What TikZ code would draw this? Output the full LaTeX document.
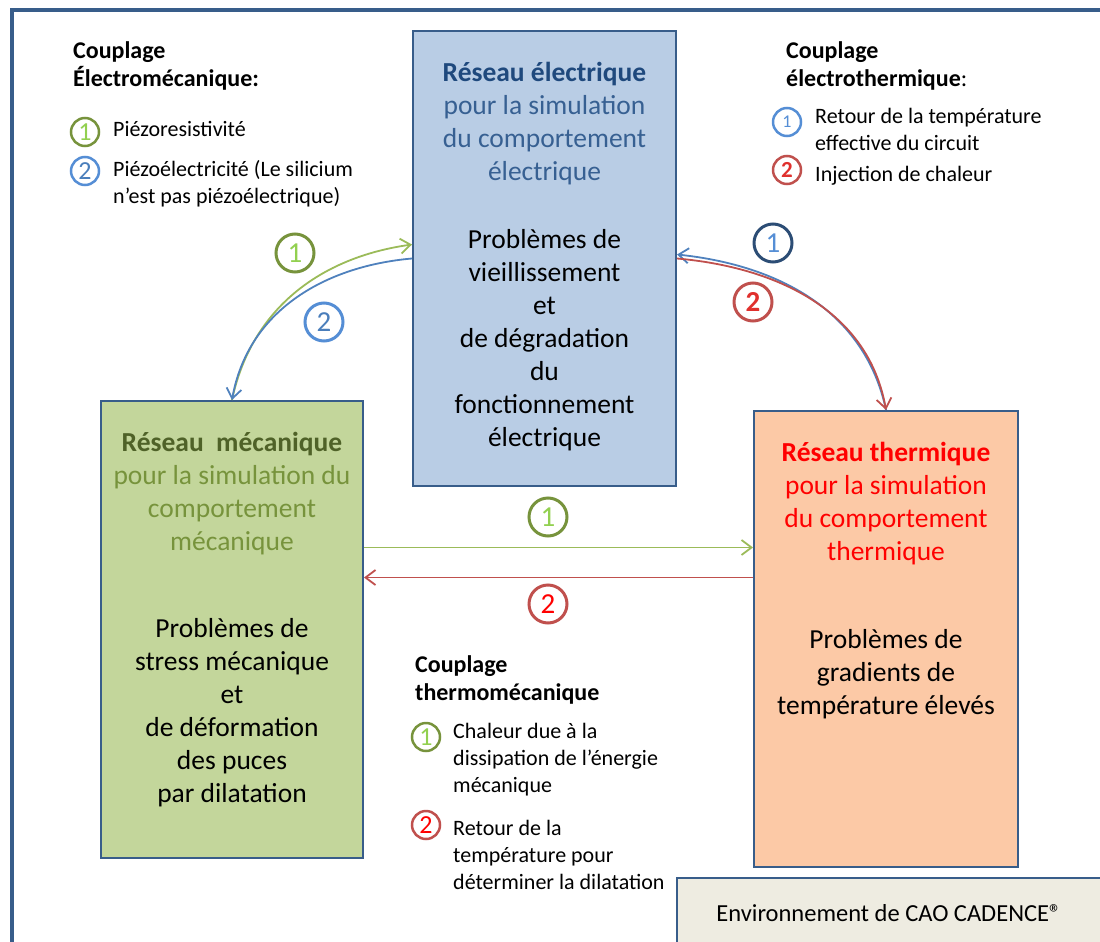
\documentclass[tikz,border=0pt]{standalone}
\usepackage{fontspec}
\setmainfont{Carlito}
\usetikzlibrary{arrows.meta, positioning}

\definecolor{cadre}{HTML}{385D8A}
\definecolor{elecfond}{HTML}{B9CDE5}
\definecolor{mecafond}{HTML}{C3D69B}
\definecolor{thermfond}{HTML}{FCC9A6}
\definecolor{envfond}{HTML}{EEECE1}
\definecolor{electitre}{HTML}{1F497D}
\definecolor{elecsous}{HTML}{376092}
\definecolor{mecatitre}{HTML}{4F6228}
\definecolor{mecasous}{HTML}{77933C}
\definecolor{thermrouge}{HTML}{FF0000}
\definecolor{vertligne}{HTML}{9BBB59}
\definecolor{vertfonce}{HTML}{77933C}
\definecolor{vertclair}{HTML}{92D050}
\definecolor{bleuligne}{HTML}{4F81BD}
\definecolor{bleucercle}{HTML}{558ED5}
\definecolor{bleuchiffre}{HTML}{4A7EBB}
\definecolor{bleunuit}{HTML}{2C4D75}
\definecolor{rougeligne}{HTML}{C0504D}
\definecolor{rougechiffre}{HTML}{E0302D}

\begin{document}
\begin{tikzpicture}[x=1pt, y=1pt,
    reseau/.style={rectangle, draw=cadre, line width=2pt, inner sep=0pt, anchor=north west},
    texte/.style={align=center, inner sep=0pt, font=\fontsize{27.5}{33}\selectfont},
    titre/.style={align=left, inner sep=0pt, anchor=north west, font=\fontsize{24}{28}\selectfont},
    legende/.style={align=left, inner sep=0pt, anchor=north west, font=\fontsize{22}{27}\selectfont},
    num/.style={circle, draw, line width=2.5pt, minimum size=28pt, inner sep=0pt, font=\fontsize{26}{26}\selectfont},
    grandnum/.style={num, line width=3pt, minimum size=38pt, font=\fontsize{29}{29}\selectfont},
    fleche/.style={line width=1.8pt, -{Straight Barb[length=10pt, width=15pt]}}]

    \useasboundingbox (0,0) rectangle (1100,-942);
    \clip (0,0) rectangle (1100,-942);
    \draw[cadre, line width=3.5pt] (12,-10) rectangle (1130,-980);

    % les trois reseaux
    \node[reseau, fill=elecfond, minimum width=263pt, minimum height=455pt] (elec) at (412,-30) {};
    \node[reseau, fill=mecafond, minimum width=262pt, minimum height=457pt] (meca) at (100,-400) {};
    \node[reseau, fill=thermfond, minimum width=264pt, minimum height=456pt] (therm) at (753,-410) {};
    \node[reseau, fill=envfond, minimum width=500pt, minimum height=120pt] (env) at (676,-877) {};

    \node[texte, below=32pt of elec.north] (electxt) {\textcolor{electitre}{\textbf{Réseau électrique}}\\
        \textcolor{elecsous}{pour la simulation}\\ \textcolor{elecsous}{du comportement}\\
        \textcolor{elecsous}{électrique}\\[35pt]
        Problèmes de\\ vieillissement\\ et\\ de dégradation\\ du\\ fonctionnement\\ électrique};
    \node[texte, below=32pt of meca.north] (mecatxt) {\textcolor{mecatitre}{\textbf{Réseau\ \ mécanique}}\\
        \textcolor{mecasous}{pour la simulation du}\\ \textcolor{mecasous}{comportement}\\
        \textcolor{mecasous}{mécanique}\\[54pt]
        Problèmes de\\ stress mécanique\\ et\\ de déformation\\ des puces\\ par dilatation};
    \node[texte, below=32pt of therm.north] (thermtxt) {\textcolor{thermrouge}{\textbf{Réseau thermique}}\\
        \textcolor{thermrouge}{pour la simulation}\\ \textcolor{thermrouge}{du comportement}\\
        \textcolor{thermrouge}{thermique}\\[55pt]
        Problèmes de\\ gradients de\\ température élevés};
    \node[font=\fontsize{24.5}{29}\selectfont] (envtxt) at (889,-913) {Environnement de CAO CADENCE®};

    % couplages
    \draw[fleche, vertligne] (meca.north) to[out=78, in=188] ([yshift=14pt]elec.west);
    \draw[fleche, bleuligne] (elec.west) to[out=185, in=80] (meca.north);
    \draw[fleche, bleuligne] (therm.north) to[out=102, in=354] ([yshift=4pt]elec.east);
    \draw[fleche, rougeligne] (elec.east) to[out=355, in=100] (therm.north);
    \coordinate (gA) at ([yshift=82pt]meca.east);
    \coordinate (rA) at ([yshift=52pt]meca.east);
    \draw[fleche, vertligne] (gA) -- (gA -| therm.west);
    \draw[fleche, rougeligne] (rA -| therm.west) -- (rA);

    \node[grandnum, draw=vertfonce, text=vertclair] (gEM1) at (295,-253) {1};
    \node[grandnum, draw=bleucercle, text=bleuchiffre] (gEM2) at (324,-322) {2};
    \node[grandnum, draw=bleunuit, text=bleucercle] (gET1) at (773,-243) {1};
    \node[grandnum, draw=rougeligne, text=rougechiffre, font=\fontsize{29}{29}\selectfont\bfseries] (gET2) at (753,-302) {2};
    \node[grandnum, draw=vertfonce, text=vertclair] (gTM1) at (548,-517) {1};
    \node[grandnum, draw=rougeligne, text=thermrouge] (gTM2) at (548,-604) {2};

    % legendes
    \node[titre] (tEM) at (73,-41) {\textbf{Couplage}\\ \textbf{Électromécanique:}};
    \node[num, draw=vertfonce, text=vertclair] (cEM1) at (85,-132) {1};
    \node[legende] (lEM1) at (113,-121) {Piézoresistivité};
    \node[num, draw=bleucercle, text=bleuchiffre] (cEM2) at (85,-171) {2};
    \node[legende] (lEM2) at (113,-160) {Piézoélectricité (Le silicium\\ n’est pas piézoélectrique)};

    \node[titre] (tET) at (786,-41) {\textbf{Couplage}\\ \textbf{électrothermique}:};
    \node[num, draw=bleucercle, text=bleucercle, font=\fontsize{18}{18}\selectfont] (cET1) at (787,-122) {1};
    \node[legende] (lET1) at (815,-108) {Retour de la température\\ effective du circuit};
    \node[num, draw=rougeligne, text=rougechiffre, font=\fontsize{23}{23}\selectfont\bfseries] (cET2) at (787,-170) {2};
    \node[legende] (lET2) at (815,-166) {Injection de chaleur};

    \node[titre] (tTM) at (415,-655) {\textbf{Couplage}\\ \textbf{thermomécanique}};
    \node[num, draw=vertfonce, text=vertclair] (cTM1) at (426,-737) {1};
    \node[legende] (lTM1) at (453,-723) {Chaleur due à la\\ dissipation de l’énergie\\ mécanique};
    \node[num, draw=rougeligne, text=thermrouge] (cTM2) at (426,-825) {2};
    \node[legende] (lTM2) at (453,-820) {Retour de la\\ température pour\\ déterminer la dilatation};
\end{tikzpicture}
\end{document}
